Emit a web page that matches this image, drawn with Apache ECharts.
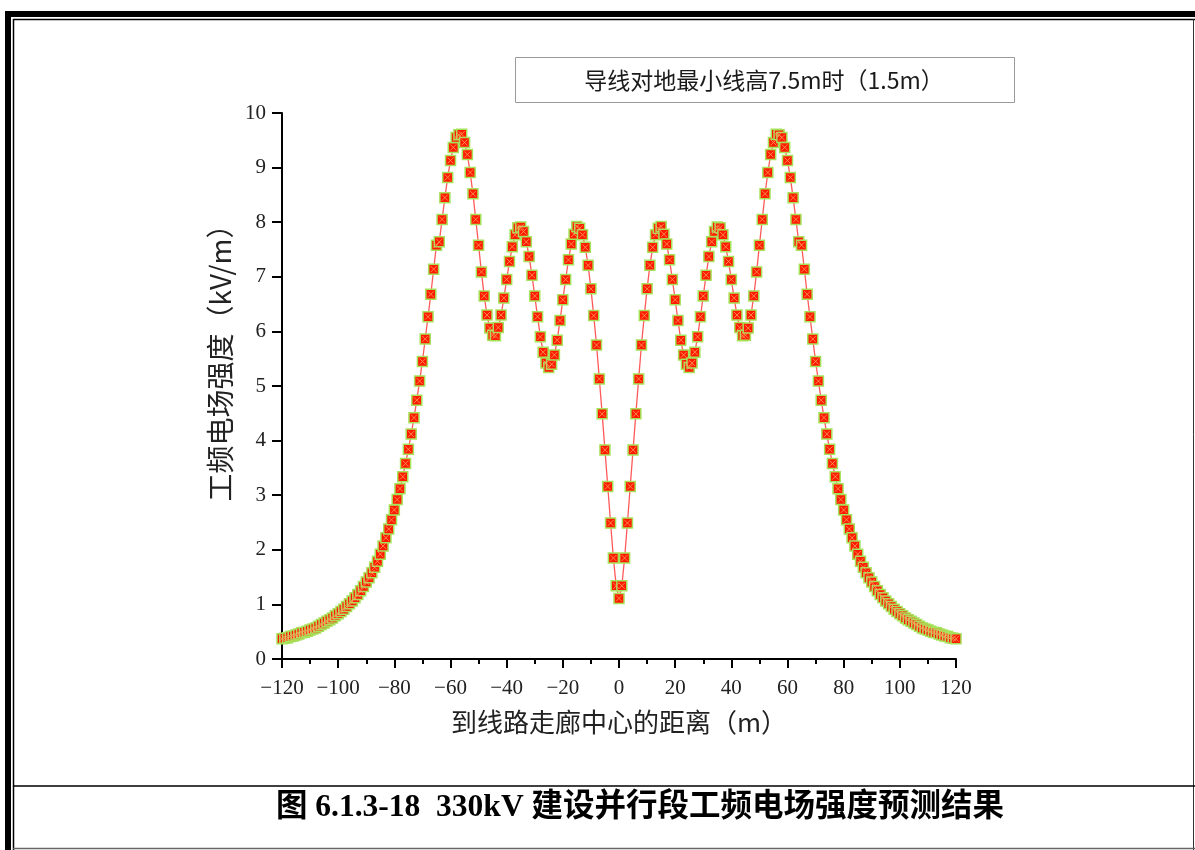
<!DOCTYPE html>
<html>
<head>
<meta charset="utf-8">
<script src="https://cdn.jsdelivr.net/npm/echarts@6/dist/echarts.min.js"></script>
<style>
html,body{margin:0;padding:0;background:#fff;}
#chart{width:1195px;height:850px;}
</style>
</head>
<body>
<div id="chart"></div>
<script>
// Distance from corridor centre (m)
const distances = [];
for (let d = -120; d <= 120; d++) distances.push(d);

// Power-frequency electric field strength (kV/m)
const fieldLeft = [
  0.37,0.38,0.39,0.41,0.42,0.44,0.46,0.48,0.49,0.51,
  0.53,0.55,0.57,0.60,0.63,0.66,0.69,0.72,0.75,0.79,
  0.83,0.87,0.91,0.96,1.01,1.06,1.12,1.18,1.25,1.33,
  1.41,1.49,1.58,1.68,1.79,1.92,2.07,2.22,2.38,2.55,
  2.73,2.92,3.12,3.34,3.58,3.84,4.12,4.42,4.74,5.09,
  5.45,5.86,6.27,6.68,7.14,7.58,7.64,8.05,8.45,8.82,
  9.13,9.37,9.55,9.60,9.61,9.46,9.24,8.91,8.52,8.05,
  7.58,7.09,6.65,6.30,6.06,5.93,5.92,6.07,6.30,6.61,
  6.95,7.28,7.55,7.77,7.90,7.91,7.83,7.64,7.37,7.03,
  6.65,6.27,5.90,5.62,5.42,5.34,5.40,5.57,5.84,6.20,
  6.58,6.95,7.31,7.60,7.78,7.92,7.89,7.77,7.54,7.21,
  6.78,6.29,5.75,5.13,4.49,3.83,3.16,2.49,1.85,1.34,
  1.11
];
const fieldRight = [
  1.34,1.85,2.49,3.16,3.83,4.49,5.13,5.75,6.29,6.78,
  7.21,7.54,7.77,7.89,7.92,7.78,7.60,7.31,6.95,6.58,
  6.20,5.84,5.57,5.40,5.34,5.42,5.62,5.90,6.27,6.65,
  7.03,7.37,7.64,7.83,7.91,7.90,7.77,7.55,7.28,6.95,
  6.61,6.30,6.07,5.92,5.93,6.06,6.30,6.65,7.09,7.58,
  8.05,8.52,8.91,9.24,9.46,9.61,9.60,9.55,9.37,9.13,
  8.82,8.45,8.05,7.64,7.58,7.14,6.68,6.27,5.86,5.45,
  5.09,4.74,4.42,4.12,3.84,3.58,3.34,3.12,2.92,2.73,
  2.55,2.38,2.22,2.07,1.92,1.79,1.68,1.58,1.49,1.41,
  1.33,1.25,1.18,1.12,1.06,1.01,0.96,0.91,0.87,0.83,
  0.79,0.75,0.72,0.69,0.66,0.63,0.60,0.57,0.55,0.53,
  0.51,0.49,0.48,0.46,0.44,0.42,0.41,0.39,0.38,0.37
];
const fieldValues = fieldLeft.concat(fieldRight);

const legendTitle = '导线对地最小线高7.5m时（1.5m）';
const xAxisName = '到线路走廊中心的距离（m）';
const yAxisName = '工频电场强度（kV/m）';
const caption = '图 6.1.3-18  330kV 建设并行段工频电场强度预测结果';

const seriesData = distances.map((d, i) => [d, fieldValues[i]]);

const chart = echarts.init(document.getElementById('chart'), null, {renderer: 'canvas'});
const tickFont = "'Liberation Serif', 'DejaVu Serif', serif";
const cjkFont = "'Noto Sans CJK SC', 'Liberation Serif', sans-serif";

chart.setOption({
  backgroundColor: '#ffffff',
  animation: false,
  grid: {left: 282, top: 113, width: 674, height: 546, containLabel: false},
  xAxis: {
    type: 'value', min: -120, max: 120, interval: 20,
    name: xAxisName, nameLocation: 'middle', nameGap: 50,
    nameTextStyle: {fontFamily: cjkFont, fontSize: 26, color: '#222'},
    axisLine: {show: true, onZero: false, lineStyle: {color: '#000', width: 2}},
    axisTick: {show: true, inside: false, length: 9, lineStyle: {color: '#000', width: 2}},
    minorTick: {show: true, splitNumber: 2, length: 5, lineStyle: {color: '#000', width: 2}},
    splitLine: {show: false},
    axisLabel: {margin: 19, fontFamily: tickFont, fontSize: 21, color: '#222',
      formatter: v => (v < 0 ? '\u2212' + Math.abs(v) : String(v))}
  },
  yAxis: {
    type: 'value', min: 0, max: 10, interval: 1,
    name: yAxisName, nameLocation: 'middle', nameGap: 46, nameRotate: 90,
    nameTextStyle: {fontFamily: cjkFont, fontSize: 28, color: '#222', padding: [0, 0, 0, 60]},
    axisLine: {show: true, onZero: false, lineStyle: {color: '#000', width: 2}},
    axisTick: {show: true, inside: false, length: 10, lineStyle: {color: '#000', width: 2}},
    splitLine: {show: false},
    axisLabel: {margin: 16, fontFamily: tickFont, fontSize: 21, color: '#222'}
  },
  series: [
    {
      type: 'line', data: seriesData,
      symbol: 'rect', symbolSize: 10, showSymbol: true, showAllSymbol: true,
      lineStyle: {color: '#ff5a5a', width: 1.3},
      itemStyle: {color: '#ff1a00', borderColor: '#a6e35a', borderWidth: 1.5},
      z: 2
    },
    {
      type: 'scatter', data: seriesData,
      symbol: 'path://M0,0L10,10M10,0L0,10', symbolSize: 6,
      itemStyle: {color: 'none', borderColor: '#f7a35c', borderWidth: 1},
      z: 3, silent: true
    }
  ],
  graphic: [
    // outer thick frame
    {type: 'rect', shape: {x: 5, y: 11, width: 1190, height: 6}, style: {fill: '#000'}, silent: true},
    {type: 'rect', shape: {x: 5, y: 11, width: 6, height: 839}, style: {fill: '#000'}, silent: true},
    // inner thin frame
    {type: 'line', shape: {x1: 13, y1: 19.5, x2: 1195, y2: 19.5}, style: {stroke: '#000', lineWidth: 1.5}, silent: true},
    {type: 'line', shape: {x1: 13.5, y1: 19, x2: 13.5, y2: 850}, style: {stroke: '#000', lineWidth: 1.5}, silent: true},
    {type: 'line', shape: {x1: 1193.5, y1: 19, x2: 1193.5, y2: 850}, style: {stroke: '#333', lineWidth: 1}, silent: true},
    {type: 'line', shape: {x1: 13, y1: 786, x2: 1195, y2: 786}, style: {stroke: '#000', lineWidth: 1.5}, silent: true},
    {type: 'line', shape: {x1: 13, y1: 848.5, x2: 1195, y2: 848.5}, style: {stroke: '#666', lineWidth: 1.5}, silent: true},
    // legend-like title box
    {type: 'rect', shape: {x: 515.5, y: 57.5, width: 499, height: 45}, style: {fill: '#fff', stroke: '#9a9a9a', lineWidth: 1}, silent: true},
    {type: 'text', x: 764, y: 80, style: {text: legendTitle, fontFamily: cjkFont, fontSize: 23, fill: '#1a1a1a', align: 'center', verticalAlign: 'middle'}, silent: true},
    // caption
    {type: 'text', x: 640, y: 808, style: {text: caption, fontFamily: "'Liberation Serif', 'Noto Sans CJK SC', serif", fontWeight: 'bold', fontSize: 31.5, fill: '#000', align: 'center', verticalAlign: 'middle'}, silent: true}
  ]
});
</script>
</body>
</html>
